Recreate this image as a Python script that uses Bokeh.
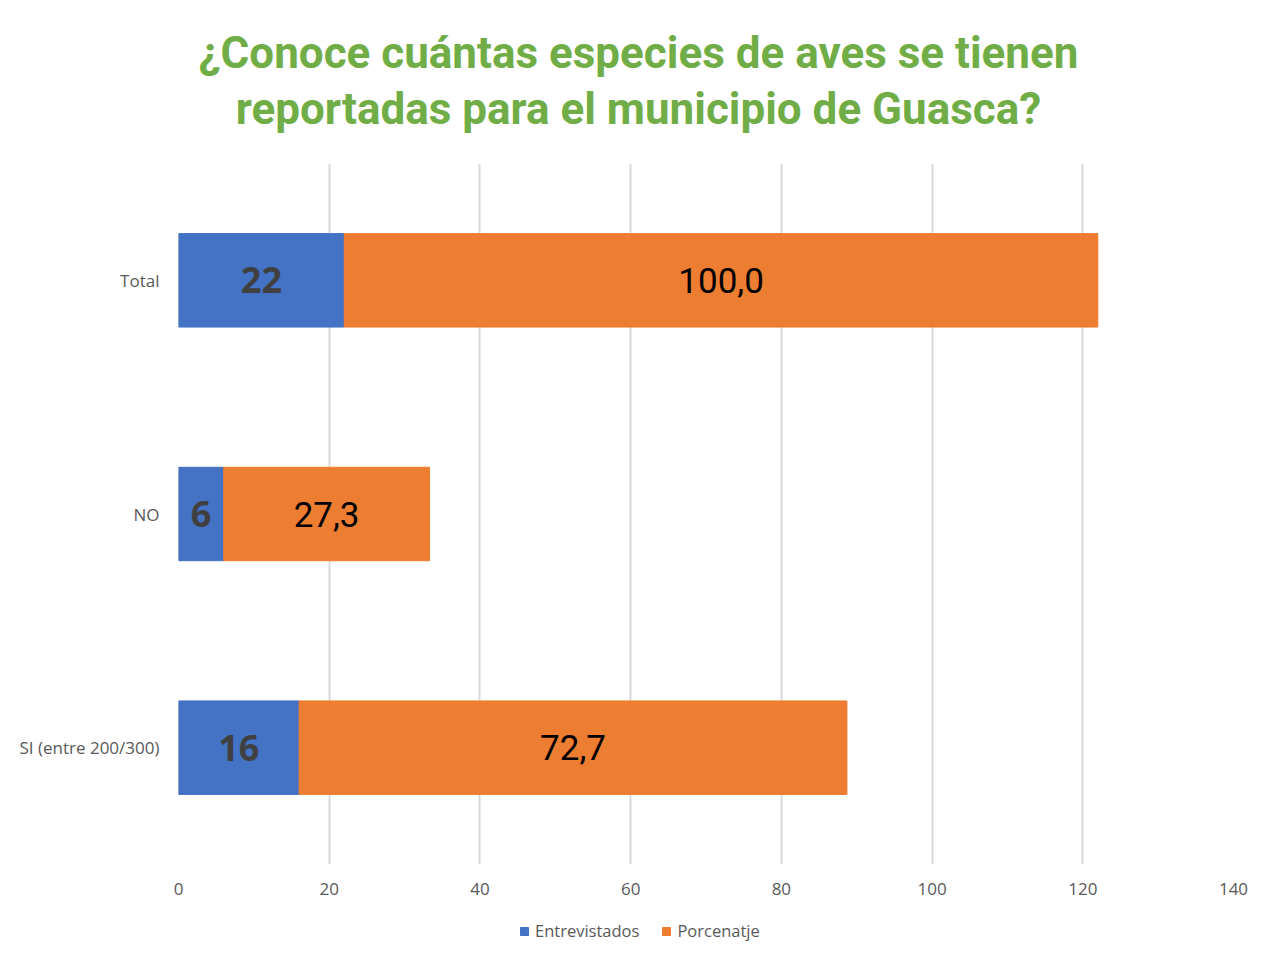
from bokeh.plotting import figure
from bokeh.layouts import column
from bokeh.models import ColumnDataSource, Label, Legend, LegendItem, FixedTicker
from bokeh.core.properties import value
from bokeh.embed import file_html
from bokeh.resources import INLINE

categories = ["SI (entre 200/300)", "NO", "Total"]
entrevistados = [16, 6, 22]
porcentaje = [72.7, 27.3, 100.0]
x_ticks = [0, 20, 40, 60, 80, 100, 120, 140]
series_names = ["Entrevistados", "Porcenatje"]
title_lines = ["¿Conoce cuántas especies de aves se tienen", "reportadas para el municipio de Guasca?"]

BLUE = "#4472C4"
ORANGE = "#ED7D31"
GREEN = "#70AD47"
GRAY = "#595959"
TITLE_FONT = "Roboto"
BODY = "Open Sans"
W = 1262
TITLE_H = 163


def strip(height):
    f = figure(width=W, height=height, x_range=(0, 1), y_range=(0, 1), output_backend="svg",
               toolbar_location=None, min_border=0)
    f.axis.visible = False
    f.grid.visible = False
    f.outline_line_color = None
    return f


# title strip above the chart
tt = strip(TITLE_H)
for line, ypos in zip(title_lines, [TITLE_H - 52, TITLE_H - 108]):
    tt.add_layout(Label(x=460, y=ypos, x_units="screen", y_units="screen", text=line,
                        text_align="center", text_baseline="middle",
                        text_font=TITLE_FONT, text_font_style="bold",
                        text_font_size="44px", text_color=GREEN))

src = ColumnDataSource(dict(
    cat=categories,
    ent_end=list(entrevistados),
    tot=[e + q for e, q in zip(entrevistados, porcentaje)],
    ent_mid=[e / 2 for e in entrevistados],
    por_mid=[e + q / 2 for e, q in zip(entrevistados, porcentaje)],
    ent_lab=[str(e) for e in entrevistados],
    por_lab=[f"{q:.1f}".replace(".", ",") for q in porcentaje],
))

p = figure(y_range=categories, x_range=(0, 140), width=W, height=904 - TITLE_H,
           output_backend="svg", toolbar_location=None,
           min_border_left=178, min_border_right=29, min_border_top=0, min_border_bottom=40)

p.hbar(y="cat", left=0, right="ent_end", height=0.40, color=BLUE, source=src)
p.hbar(y="cat", left="ent_end", right="tot", height=0.40, color=ORANGE, source=src)

p.text(x="ent_mid", y="cat", text="ent_lab", source=src, text_align="center", text_baseline="middle",
       text_font=value(BODY), text_font_style="bold", text_font_size="36px", text_color="#404040")
p.text(x="por_mid", y="cat", text="por_lab", source=src, text_align="center", text_baseline="middle",
       text_font=value(TITLE_FONT), text_font_size="35px", text_color="#000000")

p.outline_line_color = None
p.ygrid.grid_line_color = None
p.xgrid.grid_line_color = "#d9d9d9"
p.xgrid.grid_line_width = 2
p.xaxis.ticker = FixedTicker(ticks=x_ticks)
p.xaxis.axis_line_color = None
p.xaxis.major_tick_line_color = None
p.xaxis.minor_tick_line_color = None
p.xaxis.major_label_text_font = BODY
p.xaxis.major_label_text_font_size = "17px"
p.xaxis.major_label_text_color = GRAY
p.xaxis.major_label_standoff = 12

p.yaxis.axis_line_color = None
p.yaxis.major_tick_line_color = None
p.yaxis.minor_tick_line_color = None
p.yaxis.major_label_text_font = BODY
p.yaxis.major_label_text_font_size = "17px"
p.yaxis.major_label_text_color = GRAY
p.yaxis.major_label_standoff = 13

# legend strip below the chart
lg = strip(54)
r1 = lg.hbar(y=[-10], left=[0], right=[0.1], height=0.4, color=BLUE)
r2 = lg.hbar(y=[-10], left=[0], right=[0.1], height=0.4, color=ORANGE)
legend = Legend(items=[LegendItem(label=series_names[0], renderers=[r1]),
                       LegendItem(label=series_names[1], renderers=[r2])],
                orientation="horizontal", location=(341, 16),
                label_text_font=BODY, label_text_font_size="16.5px", label_text_color=GRAY,
                glyph_width=10, glyph_height=10, spacing=22, border_line_color=None,
                background_fill_alpha=0, padding=0, margin=0, label_standoff=6)
lg.add_layout(legend, "center")

layout = column(tt, p, lg, spacing=0)
open("out.html", "w").write(file_html(layout, INLINE))
